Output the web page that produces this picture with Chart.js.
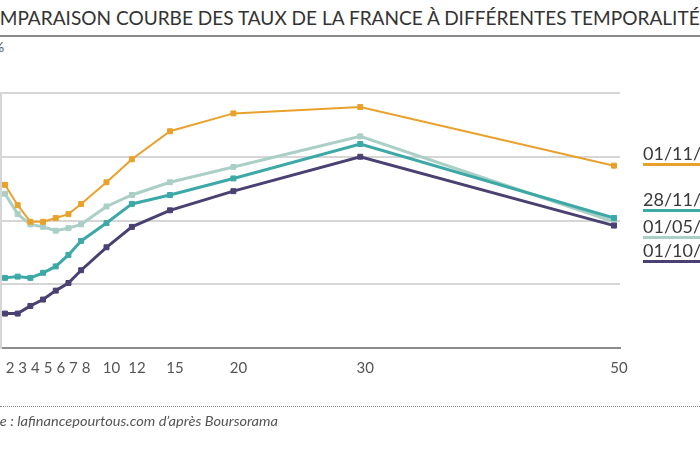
<!DOCTYPE html>
<html lang="fr">
<head>
<meta charset="UTF-8">
<title>Courbe des taux France</title>
<script src="https://cdn.jsdelivr.net/npm/chart.js@4"></script>
<style>
    body { margin: 0; width: 700px; height: 450px; overflow: hidden; background: #fff; position: relative; font-family: Lato, "Open Sans", sans-serif; }
    #graphique { position: absolute; left: -12px; top: 0; }
    #titre { position: absolute; top: 5px; left: 0; white-space: nowrap; font-size: 20px; color: #333; transform-origin: 0 0; }
    #ligneTitre { position: absolute; top: 35px; left: 0; width: 700px; border-top: 2px solid #8a8a8a; }
    #unite { position: absolute; top: 38px; left: -7px; font-size: 14px; color: #555; }
    .leg { position: absolute; left: 643px; width: 90px; white-space: nowrap; font-size: 18px; line-height: 20px; color: #3a3a3a; border-bottom: 3px solid; }
    #pointilles { position: absolute; top: 406px; left: 0; width: 700px; border-top: 1px dotted #888; }
    #source { position: absolute; top: 413px; left: 0; white-space: nowrap; font-size: 13px; font-style: italic; color: #555; transform-origin: 0 0; }
</style>
</head>
<body>
    <div id="titre">COMPARAISON COURBE DES TAUX DE LA FRANCE À DIFFÉRENTES TEMPORALITÉS</div>
    <div id="ligneTitre"></div>
    <div id="unite">%</div>
    <canvas id="graphique" width="712" height="450"></canvas>
    <div id="legende"></div>
    <div id="pointilles"></div>
    <div id="source">Source : lafinancepourtous.com d’après Boursorama</div>

<script>
    // maturités (années) et taux (%)
    var maturites = [2, 3, 4, 5, 6, 7, 8, 10, 12, 15, 20, 30, 50];
    var graduationsX = [2, 3, 4, 5, 6, 7, 8, 10, 12, 15, 20, 30, 50];

    var taux_01_11 = [3.28, 3.12, 2.99, 2.99, 3.02, 3.05, 3.13, 3.30, 3.48, 3.70, 3.84, 3.89, 3.43];
    var taux_01_05 = [3.21, 3.05, 2.97, 2.95, 2.92, 2.94, 2.97, 3.11, 3.20, 3.30, 3.42, 3.66, 2.99];
    var taux_28_11 = [2.55, 2.56, 2.55, 2.59, 2.64, 2.73, 2.84, 2.98, 3.13, 3.20, 3.33, 3.60, 3.02];
    var taux_01_10 = [2.27, 2.27, 2.33, 2.38, 2.45, 2.51, 2.61, 2.79, 2.95, 3.08, 3.23, 3.50, 2.96];

    var libelles = ['01/11/2023', '28/11/2023', '01/05/2023', '01/10/2022'];

    // ajuste le titre et la source (coupés à gauche comme sur l'original)
    function ajusterTexte(el, cache, visible, largeur) {
        var ctx = document.createElement('canvas').getContext('2d');
        var st = getComputedStyle(el);
        ctx.font = st.fontStyle + ' ' + st.fontWeight + ' ' + st.fontSize + ' ' + st.fontFamily;
        var wCache = ctx.measureText(cache).width;
        var wVisible = ctx.measureText(cache + visible).width - wCache;
        var echelle = largeur / wVisible;
        el.style.transform = 'scaleX(' + echelle + ')';
        el.style.left = (-wCache * echelle) + 'px';
    }
    ajusterTexte(document.getElementById('titre'), 'CO', 'MPARAISON COURBE DES TAUX DE LA FRANCE À DIFFÉRENTES TEMPORALITÉ', 703);
    ajusterTexte(document.getElementById('source'), 'Sourc', 'e : lafinancepourtous.com d’après Boursorama', 278);

    function serie(valeurs) {
        return valeurs.map(function (v, i) { return { x: maturites[i], y: v }; });
    }

    var series = [
        { label: libelles[0], data: taux_01_11, color: '#E9A12B', width: 2, top: 143 },
        { label: libelles[1], data: taux_28_11, color: '#3CA9A7', width: 3, top: 189 },
        { label: libelles[2], data: taux_01_05, color: '#AACFC6', width: 3, top: 216 },
        { label: libelles[3], data: taux_01_10, color: '#4B4072', width: 3, top: 240 }
    ];

    // légende à droite
    var legende = document.getElementById('legende');
    series.forEach(function (s) {
        var d = document.createElement('div');
        d.className = 'leg';
        d.style.top = s.top + 'px';
        d.style.borderBottomColor = s.color;
        d.textContent = s.label;
        legende.appendChild(d);
    });

    var datasets = series.map(function (s) {
        return {
            label: s.label,
            data: serie(s.data),
            borderColor: s.color,
            backgroundColor: s.color,
            borderWidth: s.width,
            pointStyle: 'rect',
            pointRadius: 3.5,
            pointBorderWidth: 1,
            tension: 0
        };
    });
    // ordre de tracé : orange au-dessus
    datasets = [datasets[0], datasets[3], datasets[1], datasets[2]];

    // le canvas est décalé de 12 px vers la gauche
    var decalage = 12;
    var padding = { left: 13, right: 80, top: 93, bottom: 73 };
    var zoneVoulue = { left: 1 + decalage, right: 620 + decalage, top: 93, bottom: 348 };

    var config = {
        type: 'line',
        data: { datasets: datasets },
        options: {
            responsive: false,
            animation: false,
            devicePixelRatio: 1,
            layout: { padding: padding },
            plugins: {
                legend: { display: false },
                tooltip: { enabled: false }
            },
            scales: {
                x: {
                    type: 'linear',
                    min: 1.685,
                    max: 50.47,
                    afterBuildTicks: function (scale) {
                        scale.ticks = graduationsX.map(function (v) { return { value: v }; });
                    },
                    afterFit: function (scale) {
                        scale.paddingLeft = 0;
                        scale.paddingRight = 0;
                    },
                    ticks: {
                        autoSkip: false,
                        maxRotation: 0,
                        padding: 11,
                        labelOffset: 5,
                        color: '#555',
                        font: { family: 'Lato', size: 15 },
                        callback: function (v) { return String(v); }
                    },
                    grid: { display: false, drawTicks: false },
                    border: { display: true, color: '#8c8c8c', width: 2 }
                },
                y: {
                    min: 2,
                    max: 4,
                    ticks: { stepSize: 0.5, display: false },
                    afterFit: function (scale) {
                        scale.width = 0;
                    },
                    grid: {
                        drawTicks: false,
                        lineWidth: 2,
                        color: function (c) { return c.tick && c.tick.value === 2 ? 'rgba(0,0,0,0)' : '#d6d6d6'; }
                    },
                    border: { display: true, color: '#d6d6d6', width: 2 }
                }
            }
        }
    };

    var monGraphique = new Chart(document.getElementById('graphique'), config);

    // recale la zone de tracé sur celle de l'original
    for (var k = 0; k < 4; k++) {
        var za = monGraphique.chartArea;
        padding.left += zoneVoulue.left - za.left;
        padding.right += za.right - zoneVoulue.right;
        padding.top += zoneVoulue.top - za.top;
        padding.bottom += za.bottom - zoneVoulue.bottom;
        monGraphique.options.layout.padding = Object.assign({}, padding);
        monGraphique.update();
    }
</script>
</body>
</html>
